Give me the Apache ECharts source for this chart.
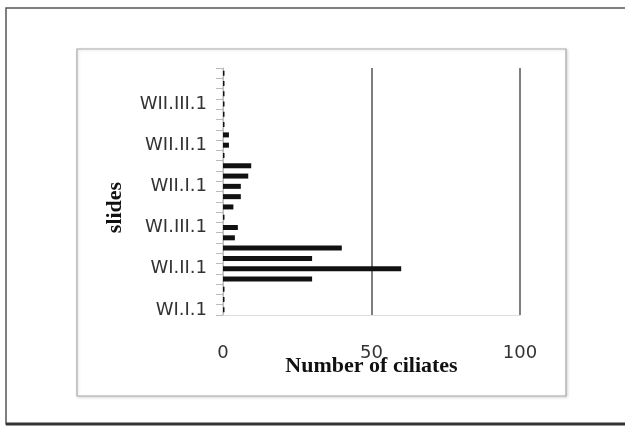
<!DOCTYPE html>
<html>
<head>
<meta charset="utf-8">
<script src="https://cdn.jsdelivr.net/npm/echarts@6/dist/echarts.min.js"></script>
<style>html,body{margin:0;padding:0;background:#fff;}#c{width:625px;height:430px;}</style>
</head>
<body>
<div id="c"></div>
<script>
// 24 slides, bottom to top
const categories = [
  'WI.I.1','WI.I.2','WI.I.3','WI.I.4',
  'WI.II.1','WI.II.2','WI.II.3','WI.II.4',
  'WI.III.1','WI.III.2','WI.III.3','WI.III.4',
  'WII.I.1','WII.I.2','WII.I.3','WII.I.4',
  'WII.II.1','WII.II.2','WII.II.3','WII.II.4',
  'WII.III.1','WII.III.2','WII.III.3','WII.III.4'
];
const ciliates = [
  0.5, 0.5, 0.5, 30,
  60, 30, 40, 4,
  5, 0.5, 3.5, 6,
  6, 8.5, 9.5, 0.5,
  2, 2, 0.5, 0.5,
  0.5, 0.5, 0.5, 0.5
];
const xTicks = [0, 50, 100];
const xTitle = 'Number of ciliates';
const yTitle = 'slides';

const chart = echarts.init(document.getElementById('c'), null, {renderer: 'canvas'});
chart.setOption({
  backgroundColor: '#fff',
  animation: false,
  graphic: [
    {type: 'rect', shape: {x: 6, y: 8, width: 640, height: 416}, style: {fill: 'none', stroke: '#555', lineWidth: 1.5}, z: -10},
    {type: 'line', shape: {x1: 6, y1: 424, x2: 625, y2: 424}, style: {stroke: '#333', lineWidth: 3}, z: -10},
    {type: 'rect', shape: {x: 77, y: 49, width: 489, height: 347}, style: {fill: '#fff', stroke: '#aaa', lineWidth: 1.2, shadowColor: 'rgba(0,0,0,0.15)', shadowBlur: 3, shadowOffsetX: 1, shadowOffsetY: 1}, z: -9}
  ],
  grid: {left: 223, right: 105, top: 68, bottom: 115, containLabel: false},
  xAxis: {
    type: 'value', min: xTicks[0], max: xTicks[xTicks.length - 1], interval: xTicks[1] - xTicks[0],
    name: xTitle, nameLocation: 'middle', nameGap: 40, nameMoveOverlap: false,
    nameTextStyle: {fontFamily: 'Liberation Serif', fontWeight: 'bold', fontSize: 22, color: '#111'},
    axisLine: {show: true, lineStyle: {color: '#ddd', width: 1}},
    axisTick: {show: false},
    axisLabel: {margin: 29, fontFamily: 'DejaVu Sans', fontSize: 18, color: '#333'},
    splitLine: {show: true, lineStyle: {color: ['#ccc', '#555', '#555'], width: 1.5}}
  },
  yAxis: {
    type: 'category', data: categories,
    name: yTitle, nameLocation: 'middle', nameGap: 97, nameRotate: 90, nameMoveOverlap: false,
    nameTextStyle: {fontFamily: 'Liberation Serif', fontWeight: 'bold', fontSize: 22, color: '#111', padding: [0, 32, 0, 0]},
    axisLine: {show: true, lineStyle: {color: '#bbb', width: 1}},
    axisTick: {show: true, interval: 0, length: 7, lineStyle: {color: '#bbb'}},
    axisLabel: {interval: 3, margin: 16, fontFamily: 'DejaVu Sans', fontSize: 18, color: '#333'}
  },
  series: [{
    type: 'bar', data: ciliates, barWidth: 5,
    itemStyle: {color: '#111'}
  }]
});
</script>
</body>
</html>
